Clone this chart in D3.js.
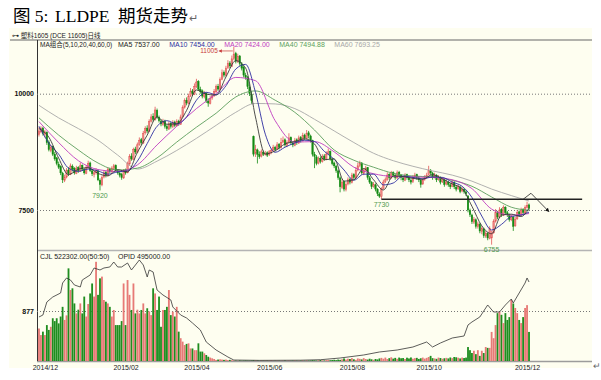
<!DOCTYPE html>
<html>
<head>
<meta charset="utf-8">
<script src="https://cdn.jsdelivr.net/npm/d3@7"></script>
<style>
  body { margin: 0; background: #fff; }
  text { font-family: "Liberation Sans", Arial, sans-serif; }
</style>
</head>
<body>
<svg id="chart" width="601" height="380"></svg>
<script>
// daily candles, [open, high, low, close]
const ohlc = [
  [9120,9280,9080,9200],[9180,9300,9150,9250],[9260,9290,9100,9150],[9130,9220,9060,9180],[9170,9190,8900,8950],[8960,9000,8760,8800],[8780,8900,8740,8850],[8860,8880,8660,8700],[8700,8750,8560,8600],[8620,8640,8460,8500],
  [8480,8540,8380,8420],[8430,8460,8250,8300],[8290,8320,8080,8150],[8140,8260,8100,8200],[8210,8400,8180,8350],[8360,8420,8230,8280],[8270,8500,8250,8450],[8440,8480,8330,8380],[8390,8420,8260,8300],[8290,8450,8270,8400],
  [8410,8440,8300,8350],[8340,8520,8320,8450],[8460,8480,8340,8380],[8370,8400,8260,8300],[8290,8460,8270,8420],[8410,8560,8390,8500],[8510,8540,8320,8350],[8340,8380,8230,8280],[8270,8340,8200,8300],[8310,8400,8260,8350],
  [8340,8370,8120,8150],[8140,8180,7920,8050],[8040,8240,8010,8200],[8210,8350,8180,8300],[8310,8340,8200,8250],[8240,8420,8220,8380],[8370,8410,8290,8330],[8320,8440,8300,8400],[8390,8490,8360,8450],[8460,8480,8320,8350],
  [8340,8370,8260,8300],[8290,8330,8200,8250],[8260,8300,8150,8200],[8190,8380,8170,8350],[8360,8390,8260,8300],[8300,8540,8290,8500],[8490,8700,8470,8650],[8660,8720,8560,8600],[8590,8840,8580,8800],[8810,8860,8700,8750],
  [8740,8950,8720,8900],[8910,9060,8880,9000],[9010,9050,8900,8950],[8940,9200,8920,9150],[9160,9300,9120,9250],[9260,9320,9150,9200],[9190,9450,9170,9400],[9410,9560,9380,9500],[9510,9580,9400,9450],[9440,9720,9420,9650],
  [9640,9680,9460,9500],[9490,9530,9380,9420],[9410,9450,9300,9350],[9340,9460,9310,9400],[9410,9440,9250,9300],[9290,9340,9200,9250],[9240,9400,9220,9350],[9360,9390,9250,9300],[9290,9430,9260,9380],[9390,9420,9280,9320],
  [9310,9450,9290,9400],[9410,9440,9310,9350],[9340,9550,9330,9500],[9510,9750,9490,9700],[9710,9900,9680,9850],[9860,9920,9750,9800],[9790,10000,9770,9950],[9960,10120,9930,10050],[10060,10100,9950,10000],[9990,10220,9970,10150],
  [10160,10320,10120,10250],[10260,10290,10060,10100],[10090,10150,10000,10050],[10060,10090,9900,9950],[9940,10060,9900,10000],[10010,10030,9800,9850],[9840,9900,9720,9800],[9790,9950,9770,9900],[9910,10000,9870,9950],[9960,10100,9930,10050],
  [10040,10200,10020,10150],[10160,10210,10060,10100],[10090,10350,10080,10300],[10310,10520,10290,10450],[10460,10500,10350,10400],[10390,10600,10370,10550],[10560,10720,10530,10650],[10660,10700,10550,10600],[10590,10820,10570,10750],[10760,11005,10720,10850],
  [10860,10900,10650,10700],[10690,10860,10660,10800],[10810,10830,10600,10650],[10640,10680,10500,10550],[10560,10600,10350,10400],[10390,10450,10300,10350],[10340,10380,10100,10150],[10140,10200,9950,10000],[9990,10050,9780,9850],[9080,9100,8650,8700],
  [8720,8900,8640,8800],[8790,8820,8500,8700],[8690,8760,8600,8650],[8660,8800,8630,8750],[8740,8780,8660,8700],[8700,8770,8670,8720],[8730,8760,8640,8680],[8690,8790,8660,8750],[8740,8820,8700,8780],[8790,8900,8760,8850],
  [8840,8880,8760,8800],[8810,8960,8790,8900],[8910,8940,8800,8850],[8840,9050,8820,8950],[8960,9080,8930,9000],[9010,9040,8860,8900],[8890,9000,8850,8950],[8960,9150,8930,9050],[9060,9080,8900,8950],[8940,8980,8850,8900],
  [8890,9050,8870,9000],[9010,9040,8900,8950],[8940,9100,8920,9050],[9060,9090,8950,9000],[8990,9160,8970,9100],[9110,9140,9000,9050],[9040,9220,9020,9150],[9160,9200,9040,9100],[9090,9120,8950,9000],[8990,9010,8650,8700],
  [8690,8750,8400,8650],[8640,8680,8460,8500],[8510,8650,8480,8600],[8610,8650,8500,8550],[8540,8700,8520,8650],[8660,8700,8560,8600],[8590,8760,8570,8700],[8710,8820,8680,8750],[8760,8780,8560,8600],[8590,8620,8460,8500],
  [8510,8540,8400,8450],[8440,8470,8300,8350],[8340,8370,8150,8200],[8190,8220,7880,8000],[7990,8160,7950,8100],[8110,8130,7900,7950],[7940,8100,7900,8050],[8060,8200,8030,8150],[8160,8190,8050,8100],[8090,8300,8070,8250],
  [8260,8290,8150,8200],[8190,8420,8170,8350],[8360,8520,8330,8450],[8460,8560,8420,8500],[8510,8530,8260,8300],[8290,8400,8250,8350],[8360,8450,8330,8400],[8410,8420,8150,8200],[8190,8230,8060,8100],[8090,8120,7950,8000],
  [8010,8100,7980,8050],[8040,8070,7900,7950],[7940,7970,7800,7850],[7840,7880,7760,7800],[7790,7990,7730,7950],[7960,8150,7940,8100],[8110,8200,8080,8150],[8160,8310,8130,8250],[8260,8290,8150,8200],[8190,8340,8170,8300],
  [8310,8330,8200,8250],[8240,8280,8150,8200],[8190,8350,8170,8300],[8310,8340,8200,8250],[8240,8270,8140,8200],[8190,8230,8100,8150],[8140,8290,8120,8250],[8260,8280,8150,8200],[8190,8220,8100,8150],[8140,8180,8050,8100],
  [8110,8250,8080,8200],[8210,8300,8180,8250],[8260,8280,8150,8200],[8190,8230,8100,8150],[8140,8170,7980,8050],[8060,8200,8040,8150],[8160,8250,8130,8200],[8210,8300,8180,8250],[8260,8450,8240,8350],[8340,8380,8250,8300],
  [8290,8320,8150,8200],[8210,8300,8180,8250],[8240,8270,8100,8150],[8160,8250,8130,8200],[8190,8220,8050,8100],[8110,8200,8080,8150],[8140,8170,8000,8050],[8060,8150,8030,8100],[8090,8130,8000,8050],[8040,8080,7950,8000],
  [8010,8150,7990,8100],[8090,8120,7950,8000],[7990,8030,7900,7950],[7960,8050,7930,8000],[7990,8020,7860,7900],[7910,7990,7880,7950],[7940,7970,7850,7900],[7890,7930,7800,7850],[7800,7820,7450,7500],[7490,7530,7350,7400],
  [7390,7420,7200,7250],[7240,7350,7200,7300],[7290,7320,7100,7150],[7140,7250,7100,7200],[7190,7220,7000,7050],[7040,7150,6980,7100],[7090,7120,6900,6950],[6940,7050,6900,7000],[6990,7020,6850,6900],[6890,7150,6870,7100],
  [6900,7050,6755,7000],[7010,7300,6990,7250],[7260,7520,7230,7450],[7440,7480,7300,7350],[7340,7560,7320,7500],[7510,7540,7350,7400],[7390,7600,7370,7550],[7560,7580,7400,7450],[7440,7480,7350,7400],[7390,7420,7250,7300],
  [7290,7400,7260,7350],[7340,7370,7050,7150],[7160,7350,7140,7300],[7310,7500,7290,7450],[7460,7490,7350,7400],[7390,7550,7370,7500],[7510,7540,7400,7450],[7440,7600,7420,7550],[7560,7680,7530,7600],[7610,7640,7500,7540]
];

// CJL volume per day
const volume = [
  570,455,515,455,630,545,600,750,700,750,660,780,950,720,800,1625,1245,1275,1010,835,
  900,1010,835,1130,780,1000,1185,1360,1130,1740,1160,1450,1480,1070,1040,1010,950,780,895,630,
  630,630,700,1360,630,1420,1160,895,1360,835,900,835,895,1010,835,925,870,805,1275,1185,
  895,1130,600,895,895,950,1245,805,865,780,950,515,400,340,280,300,310,220,220,190,
  190,310,165,165,135,105,75,60,47,35,18,25,
  30,25,20,25,15,20,15,10,
  8,6,10,5,7,9,6,5,8,12,10,7,6,9,5,8,6,7,10,6,5,8,
  5,4,6,8,5,7,4,6,9,5,6,8,10,6,12,8,10,15,12,9,14,18,12,10,16,20,14,18,22,15,25,20,
  30,45,25,40,35,50,30,20,45,38,28,50,35,
  25,40,30,22,35,28,
  45,55,40,60,35,50,65,42,55,38,60,48,52,35,58,45,62,40,50,55,36,
  48,60,42,55,70,90,50,45,38,60,52,40,48,55,45,62,50,70,65,58,45,60,52,
  60,
  245,190,140,180,120,190,90,180,
  140,245,230,230,510,400,630,840,860,810,665,840,720,770,1070,1010,930,840,720,665,770,930,980,510
];

// OPID open interest, read at these days
const oiDay = [0,2,4,7,11,12,14,16,18,21,22,26,28,31,33,36,38,40,42,45,47,49,51,53,55,56,58,60,63,67,68,72,75,78,82,85,90,96,99,112,133,143,153,165,173,182,190,197,200,204,210,216,218,220,224,228,231,234,237,240,241,244,247,248,249];
const oiValue = [275700,288200,369700,401000,426100,488700,520100,507500,476200,463700,507500,538900,582700,570200,582700,589000,620300,589000,589000,614100,570200,601500,632900,601500,526400,570200,557700,444900,413600,382300,338400,288200,269400,238100,194200,119100,68900,25100,6000,4000,5000,8000,18800,37600,56400,68900,87700,119100,87700,112800,144100,156700,225600,244400,275700,350900,307000,307000,350900,388500,363400,426100,488700,520100,495000];

// moving averages
const fastDay = [0,5,10,15,20,25,30,35,40,45,50,55,60,65,70,75,80,85,90,95,100,105,110,115,120,125,130,135,140,145,150,155,160,165,170,175,180,185,190,195,200,205,210,215,220,225,230,235,240,245,249];
const ma5 = [9250,9066,8614,8260,8376,8410,8286,8236,8366,8320,8740,9110,9500,9344,9350,9640,10080,9990,9970,10360,10710,10550,9500,8704,8772,8920,8970,9030,8920,8580,8600,8120,8150,8390,8150,7930,8230,8220,8180,8160,8260,8170,8060,7960,7580,7160,6990,7390,7410,7360,7537];
const ma10 = [9300,8940,8700,8400,8330,8380,8340,8270,8320,8340,8550,8930,9300,9420,9350,9500,9860,10030,9980,10170,10530,10630,10030,9130,8740,8850,8940,9000,8970,8760,8590,8360,8140,8270,8270,8040,8080,8230,8200,8170,8210,8200,8100,8010,7770,7370,7070,7190,7360,7390,7454];
const slowDay = [0,10,20,30,40,50,60,70,80,90,100,110,120,130,140,150,160,170,180,190,200,210,220,230,240,249];
const ma20 = [9400,8950,8560,8370,8330,8470,8900,9300,9680,10000,10350,10280,9420,8960,8970,8750,8420,8280,8220,8210,8200,8150,7960,7520,7390,7424];
const ma40 = [9480,9110,8790,8510,8360,8400,8620,8960,9280,9580,9930,10060,9860,9600,9220,8790,8570,8420,8290,8230,8210,8140,8010,7780,7560,7495];
const ma60 = [9750,9480,9250,9000,8680,8380,8550,8780,9040,9320,9600,9790,9780,9680,9450,9200,8950,8720,8560,8440,8340,8250,8120,7950,7810,7693];

const maNames = ["MA5", "MA10", "MA20", "MA40", "MA60"];
const maLast = ["7537.00", "7454.00", "7424.00", "7494.88", "7693.25"];
const maColors = ["#3a3a3a", "#2e2ea0", "#c03cc0", "#5c9e5c", "#a8a8a8"];

const tickDay = [3, 44, 80, 117, 159, 198, 248];
const tickLabel = ["2014/12", "2015/02", "2015/04", "2015/06", "2015/08", "2015/10", "2015/12"];
const priceTicks = [7500, 10000];
const volTicks = [877];

const highMark = [99, 11005];
const lowMarks = [[31, 7920], [174, 7730], [230, 6755]];
const supportDay = [174, 276], supportPrice = 7730;
const pathDay = [246, 250, 259], pathPrice = [7730, 7860, 7470];

const svg = d3.select("#chart");
const panelLeft = 37, panelRight = 592, panelTop = 40, midLine = 250, panelBottom = 361;
const upColor = "#e25656", downColor = "#138a13";

const x = d3.scaleLinear().domain([-0.5, ohlc.length - 0.5]).range([38, 530]);
const y = d3.scaleLinear().domain([7500, 10000]).range([210, 93.7]);
const yVol = d3.scaleLinear().domain([0, 877]).range([panelBottom, 311]);
const yOi = d3.scaleLinear().domain([0, 495000]).range([panelBottom, 282]);
const step = x(1) - x(0), bw = step * 0.72;
const isUp = d => d[3] >= d[0];

svg.append("rect")
  .attr("x", 9).attr("y", 28).attr("width", panelRight - 9).attr("height", 340)
  .attr("fill", "#fefef0");

// title
const title = svg.append("text")
  .attr("y", 22)
  .style("font-family", "'Liberation Serif','Noto Sans CJK SC',serif")
  .style("font-size", "17.5px");
title.append("tspan").attr("x", 13).text("图 5:");
title.append("tspan").attr("x", 55).text("LLDPE");
title.append("tspan").attr("x", 118).text("期货走势");
title.append("tspan").attr("dx", 1).style("font-size", "11px").attr("fill", "#666").text("↵");

svg.append("text")
  .attr("x", 12).attr("y", 37.5)
  .style("font-size", "6.5px").style("font-family", "'Liberation Sans','Noto Sans CJK SC',sans-serif")
  .attr("fill", "#222")
  .text("⊶ 塑料1605 (DCE 11605)日线");

// frame lines
svg.append("line").attr("x1", 10).attr("x2", panelRight).attr("y1", panelTop).attr("y2", panelTop)
  .attr("stroke", "#666").attr("stroke-width", 1);
svg.append("line").attr("x1", panelLeft).attr("x2", panelRight).attr("y1", midLine + 0.5).attr("y2", midLine + 0.5)
  .attr("stroke", "#b4b4b4").attr("stroke-width", 1.6);
svg.append("line").attr("x1", panelLeft).attr("x2", panelRight).attr("y1", panelBottom + 0.5).attr("y2", panelBottom + 0.5)
  .attr("stroke", "#9c9c9c").attr("stroke-width", 1.6);
svg.append("line").attr("x1", panelLeft + 0.5).attr("x2", panelLeft + 0.5).attr("y1", panelTop).attr("y2", panelBottom)
  .attr("stroke", "#333").attr("stroke-width", 1);

// price axis with dotted grid
const yAxis = d3.axisLeft(y).tickValues(priceTicks).tickFormat(d3.format("d"))
  .tickSize(-(panelRight - panelLeft)).tickPadding(3);
const gy = svg.append("g").attr("transform", "translate(" + panelLeft + ",0)").call(yAxis);
gy.select(".domain").remove();
gy.selectAll("line").attr("stroke", "#777").attr("stroke-dasharray", "1,2");
gy.selectAll("text").style("font-size", "7px").style("font-weight", "bold").attr("fill", "#111");

const vAxis = d3.axisLeft(yVol).tickValues(volTicks).tickFormat(d3.format("d"))
  .tickSize(-(panelRight - panelLeft)).tickPadding(3);
const gv = svg.append("g").attr("transform", "translate(" + panelLeft + ",0)").call(vAxis);
gv.select(".domain").remove();
gv.selectAll("line").attr("stroke", "#777").attr("stroke-dasharray", "1,2");
gv.selectAll("text").style("font-size", "7px").style("font-weight", "bold").attr("fill", "#111");

// date axis
const xAxis = d3.axisBottom(x).tickValues(tickDay).tickFormat((d, i) => tickLabel[i])
  .tickSize(0).tickPadding(3);
const gx = svg.append("g").attr("transform", "translate(0," + (panelBottom + 1) + ")").call(xAxis);
gx.select(".domain").remove();
gx.selectAll("text").style("font-size", "7px").attr("fill", "#222");

// candles
const candle = svg.append("g").selectAll("g").data(ohlc).join("g");
candle.append("line")
  .attr("x1", (d, i) => x(i)).attr("x2", (d, i) => x(i))
  .attr("y1", d => y(d[1])).attr("y2", d => y(d[2]))
  .attr("stroke", d => isUp(d) ? upColor : downColor).attr("stroke-width", 0.8);
candle.append("rect")
  .attr("x", (d, i) => x(i) - bw / 2).attr("width", bw)
  .attr("y", d => y(Math.max(d[0], d[3])))
  .attr("height", d => Math.max(1, Math.abs(y(d[0]) - y(d[3]))))
  .attr("fill", d => isUp(d) ? "#ee8a86" : downColor)
  .attr("stroke", d => isUp(d) ? upColor : downColor).attr("stroke-width", 0.5);

// moving averages
const maSeries = [
  [fastDay, ma5], [fastDay, ma10], [slowDay, ma20], [slowDay, ma40], [slowDay, ma60]
];
const maLine = d3.line().x(d => x(d[0])).y(d => y(d[1])).curve(d3.curveMonotoneX);
maSeries.slice().reverse().forEach((s, k) => {
  const idx = maSeries.length - 1 - k;
  svg.append("path")
    .datum(s[0].map((d, i) => [d, s[1][i]]))
    .attr("d", maLine)
    .attr("fill", "none")
    .attr("stroke", maColors[idx])
    .attr("stroke-width", 0.9);
});

// volume bars and open interest
svg.append("g").selectAll("rect").data(volume).join("rect")
  .attr("x", (d, i) => x(i) - bw / 2 - 0.2).attr("width", bw + 0.4)
  .attr("y", d => yVol(d)).attr("height", d => panelBottom - yVol(d))
  .attr("fill", (d, i) => isUp(ohlc[i]) ? "#e77a76" : "#1f8d1f");

svg.append("path")
  .datum(oiDay.map((d, i) => [d, oiValue[i]]))
  .attr("d", d3.line().x(d => x(d[0])).y(d => yOi(d[1])))
  .attr("fill", "none").attr("stroke", "#333").attr("stroke-width", 0.8);

// legends
const maLegend = svg.append("text").attr("y", 46.5).style("font-size", "6.5px")
  .style("font-family", "'Liberation Sans','Noto Sans CJK SC',sans-serif");
maLegend.append("tspan").attr("x", 40).attr("fill", "#222").text("MA组合(5,10,20,40,60,0)");
let lx = 118;
maNames.forEach((n, i) => {
  const t = svg.append("text").attr("x", lx).attr("y", 46.5).style("font-size", "7px")
    .attr("fill", i === 0 ? "#222" : maColors[i]).text(n + " " + maLast[i]);
  lx += t.node().getComputedTextLength() + 9.5;
});

svg.append("text").attr("x", 40).attr("y", 259).style("font-size", "7px").attr("fill", "#222")
  .text("CJL  522302.00(50:50)");
svg.append("text").attr("x", 118).attr("y", 259).style("font-size", "7px").attr("fill", "#222")
  .text("OPID   495000.00");

// high / low marks
const hx = x(highMark[0]), hy = y(highMark[1]);
svg.append("text").attr("x", hx - 16).attr("y", hy + 6.5).attr("text-anchor", "end")
  .style("font-size", "6.5px").attr("fill", "#c83a3a").text(highMark[1]);
svg.append("line").attr("x1", hx - 15).attr("x2", hx - 1).attr("y1", hy + 4).attr("y2", hy + 4)
  .attr("stroke", "#c83a3a").attr("stroke-width", 0.7);
svg.append("path")
  .attr("d", "M" + (hx - 15) + "," + (hy + 4) + "l3,-1.8v3.6z")
  .attr("fill", "#c83a3a");

svg.selectAll(".lowMark").data(lowMarks).join("text")
  .attr("class", "lowMark")
  .attr("x", d => x(d[0])).attr("y", d => y(d[1]) + 7.5)
  .attr("text-anchor", "middle").style("font-size", "7px").attr("fill", "#4f9a4f")
  .text(d => d[1]);

// support line and projected path
svg.append("line")
  .attr("x1", x(supportDay[0])).attr("x2", x(supportDay[1]))
  .attr("y1", y(supportPrice)).attr("y2", y(supportPrice))
  .attr("stroke", "#222").attr("stroke-width", 1.5);

svg.append("defs").append("marker")
  .attr("id", "arrow").attr("viewBox", "0 0 10 10").attr("refX", 8).attr("refY", 5)
  .attr("markerWidth", 5).attr("markerHeight", 5).attr("orient", "auto")
  .append("path").attr("d", "M0,0L10,5L0,10z").attr("fill", "#111");

svg.append("path")
  .datum(pathDay.map((d, i) => [d, pathPrice[i]]))
  .attr("d", d3.line().x(d => x(d[0])).y(d => y(d[1])))
  .attr("fill", "none").attr("stroke", "#222").attr("stroke-width", 0.8)
  .attr("marker-end", "url(#arrow)");

svg.append("text").attr("x", 593).attr("y", 369).style("font-size", "9px").attr("fill", "#666").text("↵");
</script>
</body>
</html>
